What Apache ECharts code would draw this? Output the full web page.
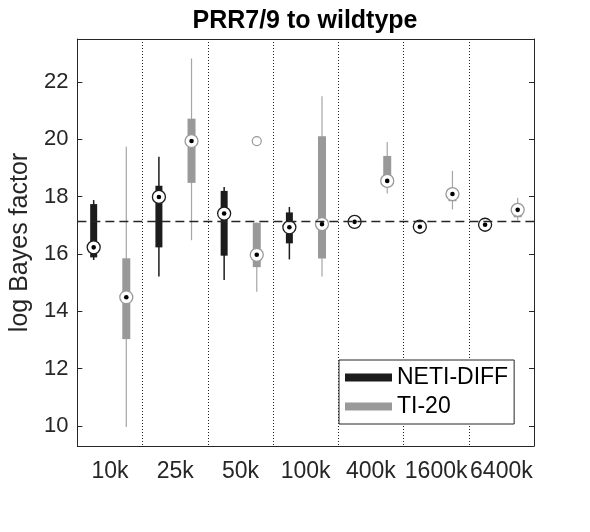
<!DOCTYPE html>
<html>
<head>
<meta charset="utf-8">
<script src="https://cdn.jsdelivr.net/npm/echarts@6/dist/echarts.min.js"></script>
<style>
  html, body { margin: 0; padding: 0; background: #fff; }
  #main { width: 590px; height: 532px; }
</style>
</head>
<body>
<div id="main"></div>
<script>
// sample sizes on the x axis
var categories = ['10k', '25k', '50k', '100k', '400k', '1600k', '6400k']

// box stats per category: [low whisker, q1, median, q3, high whisker]
var netiStats = [
  [15.79, 15.88, 16.23, 17.74, 17.88],
  [15.21, 16.23, 17.99, 18.38, 19.39],
  [15.09, 15.94, 17.41, 18.20, 18.34],
  [15.81, 16.37, 16.93, 17.45, 17.64],
  [17.00, 17.06, 17.12, 17.16, 17.20],
  [16.88, 16.92, 16.95, 16.98, 17.02],
  [16.97, 17.00, 17.02, 17.05, 17.08]
]
var tiStats = [
  [9.96, 13.03, 14.49, 15.85, 19.74],
  [16.48, 18.48, 19.94, 20.72, 22.82],
  [14.68, 15.54, 15.97, 17.09, 17.09],
  [15.21, 15.84, 17.04, 20.11, 21.50],
  [18.11, 18.45, 18.55, 19.42, 19.91],
  [17.55, 17.84, 18.09, 18.15, 18.90],
  [17.18, 17.28, 17.54, 17.60, 17.96]
]
// outliers: [category index, value]
var tiOutliers = [[2, 19.94]]
// reference (dashed) level
var refLevel = 17.15

var font = 'Liberation Sans, Arial, Helvetica, sans-serif'
var axisColor = '#262626'

function toData (stats) {
  return stats.map(function (s, i) { return [i].concat(s) })
}

// MATLAB "compact" style box: thin whisker, thick box, circled median
function boxRenderer (offset, boxColor, lineColor, circleColor, boxW, whiskerW) {
  return function (params, api) {
    var ci = api.value(0)
    var dx = api.size([1, 0])[0] * offset
    var pLow = api.coord([ci, api.value(1)])
    var pQ1 = api.coord([ci, api.value(2)])
    var pMed = api.coord([ci, api.value(3)])
    var pQ3 = api.coord([ci, api.value(4)])
    var pHigh = api.coord([ci, api.value(5)])
    var x = pMed[0] + dx
    return {
      type: 'group',
      children: [
        {
          type: 'line',
          shape: { x1: x, y1: pLow[1], x2: x, y2: pHigh[1] },
          style: { stroke: lineColor, lineWidth: whiskerW }
        },
        {
          type: 'rect',
          shape: { x: x - boxW / 2, y: pQ3[1], width: boxW, height: Math.max(pQ1[1] - pQ3[1], 1) },
          style: { fill: boxColor }
        },
        {
          type: 'circle',
          shape: { cx: x, cy: pMed[1], r: 6.5 },
          style: { fill: '#fff', stroke: circleColor, lineWidth: 1.3 }
        },
        {
          type: 'circle',
          shape: { cx: x, cy: pMed[1], r: 2.3 },
          style: { fill: '#000' }
        }
      ]
    }
  }
}

var chart = echarts.init(document.getElementById('main'))

var options = {
  animation: false,
  backgroundColor: '#fff',
  title: {
    text: 'PRR7/9 to wildtype',
    left: 305,
    top: 9,
    padding: 0,
    textAlign: 'center',
    textStyle: { fontFamily: font, fontSize: 25, fontWeight: 'bold', color: '#000' }
  },
  legend: {
    orient: 'vertical',
    left: 339,
    top: 360,
    icon: 'rect',
    itemWidth: 47,
    itemHeight: 8,
    itemGap: 6,
    padding: [6, 6, 6, 6],
    backgroundColor: '#fff',
    borderColor: axisColor,
    borderWidth: 1,
    textStyle: { fontFamily: font, fontSize: 23, color: '#000' },
    data: ['NETI-DIFF', 'TI-20']
  },
  grid: { left: 76, right: 56, top: 39, bottom: 86 },
  xAxis: [
    {
      type: 'category',
      data: categories,
      position: 'bottom',
      axisLine: { lineStyle: { color: axisColor, width: 1 } },
      axisTick: { inside: true, alignWithLabel: true, interval: 0, length: 5, lineStyle: { color: axisColor } },
      axisLabel: { interval: 0, margin: 14, fontFamily: font, fontSize: 23, color: axisColor },
      splitLine: { show: true, interval: 0, lineStyle: { color: '#222', width: 1, type: [1, 2] } }
    },
    {
      type: 'category',
      data: categories,
      position: 'top',
      axisLine: { lineStyle: { color: axisColor, width: 1 } },
      axisTick: { inside: true, alignWithLabel: true, interval: 0, length: 5, lineStyle: { color: axisColor } },
      axisLabel: { show: false },
      splitLine: { show: false }
    }
  ],
  yAxis: [
    {
      type: 'value',
      min: 9.3,
      max: 23.5,
      splitNumber: 7,
      position: 'left',
      name: 'log Bayes factor',
      nameLocation: 'middle',
      nameGap: 38,
      nameTextStyle: { fontFamily: font, fontSize: 25, color: axisColor },
      axisLine: { show: true, lineStyle: { color: axisColor, width: 1 } },
      axisTick: { show: true, inside: true, length: 5, lineStyle: { color: axisColor } },
      axisLabel: { margin: 9, fontFamily: font, fontSize: 22, color: axisColor, showMinLabel: false, showMaxLabel: false },
      splitLine: { show: false }
    },
    {
      type: 'value',
      min: 9.3,
      max: 23.5,
      splitNumber: 7,
      position: 'right',
      axisLine: { show: true, lineStyle: { color: axisColor, width: 1 } },
      axisTick: { show: true, inside: true, length: 5, lineStyle: { color: axisColor } },
      axisLabel: { show: false },
      splitLine: { show: false }
    }
  ],
  series: [
    {
      name: 'ref',
      type: 'line',
      data: [],
      z: 1,
      markLine: {
        silent: true,
        symbol: 'none',
        label: { show: false },
        lineStyle: { color: axisColor, width: 1.3, type: [9, 5] },
        data: [{ yAxis: refLevel }]
      }
    },
    {
      name: 'NETI-DIFF',
      type: 'custom',
      z: 3,
      itemStyle: { color: '#1c1c1c' },
      renderItem: boxRenderer(-0.25, '#1c1c1c', '#1c1c1c', '#1c1c1c', 7, 1.5),
      encode: { x: 0, y: [1, 2, 3, 4, 5] },
      data: toData(netiStats)
    },
    {
      name: 'TI-20',
      type: 'custom',
      z: 3,
      itemStyle: { color: '#999999' },
      renderItem: boxRenderer(0.25, '#999999', '#a6a6a6', '#999999', 8, 1.2),
      encode: { x: 0, y: [1, 2, 3, 4, 5] },
      data: toData(tiStats)
    },
    {
      name: 'TI-20 outliers',
      type: 'custom',
      z: 3,
      renderItem: function (params, api) {
        var p = api.coord([api.value(0), api.value(1)])
        var dx = api.size([1, 0])[0] * 0.25
        return {
          type: 'circle',
          shape: { cx: p[0] + dx, cy: p[1], r: 4.5 },
          style: { fill: 'none', stroke: '#999999', lineWidth: 1.2 }
        }
      },
      encode: { x: 0, y: 1 },
      data: tiOutliers
    }
  ]
}

chart.setOption(options)
</script>
</body>
</html>
